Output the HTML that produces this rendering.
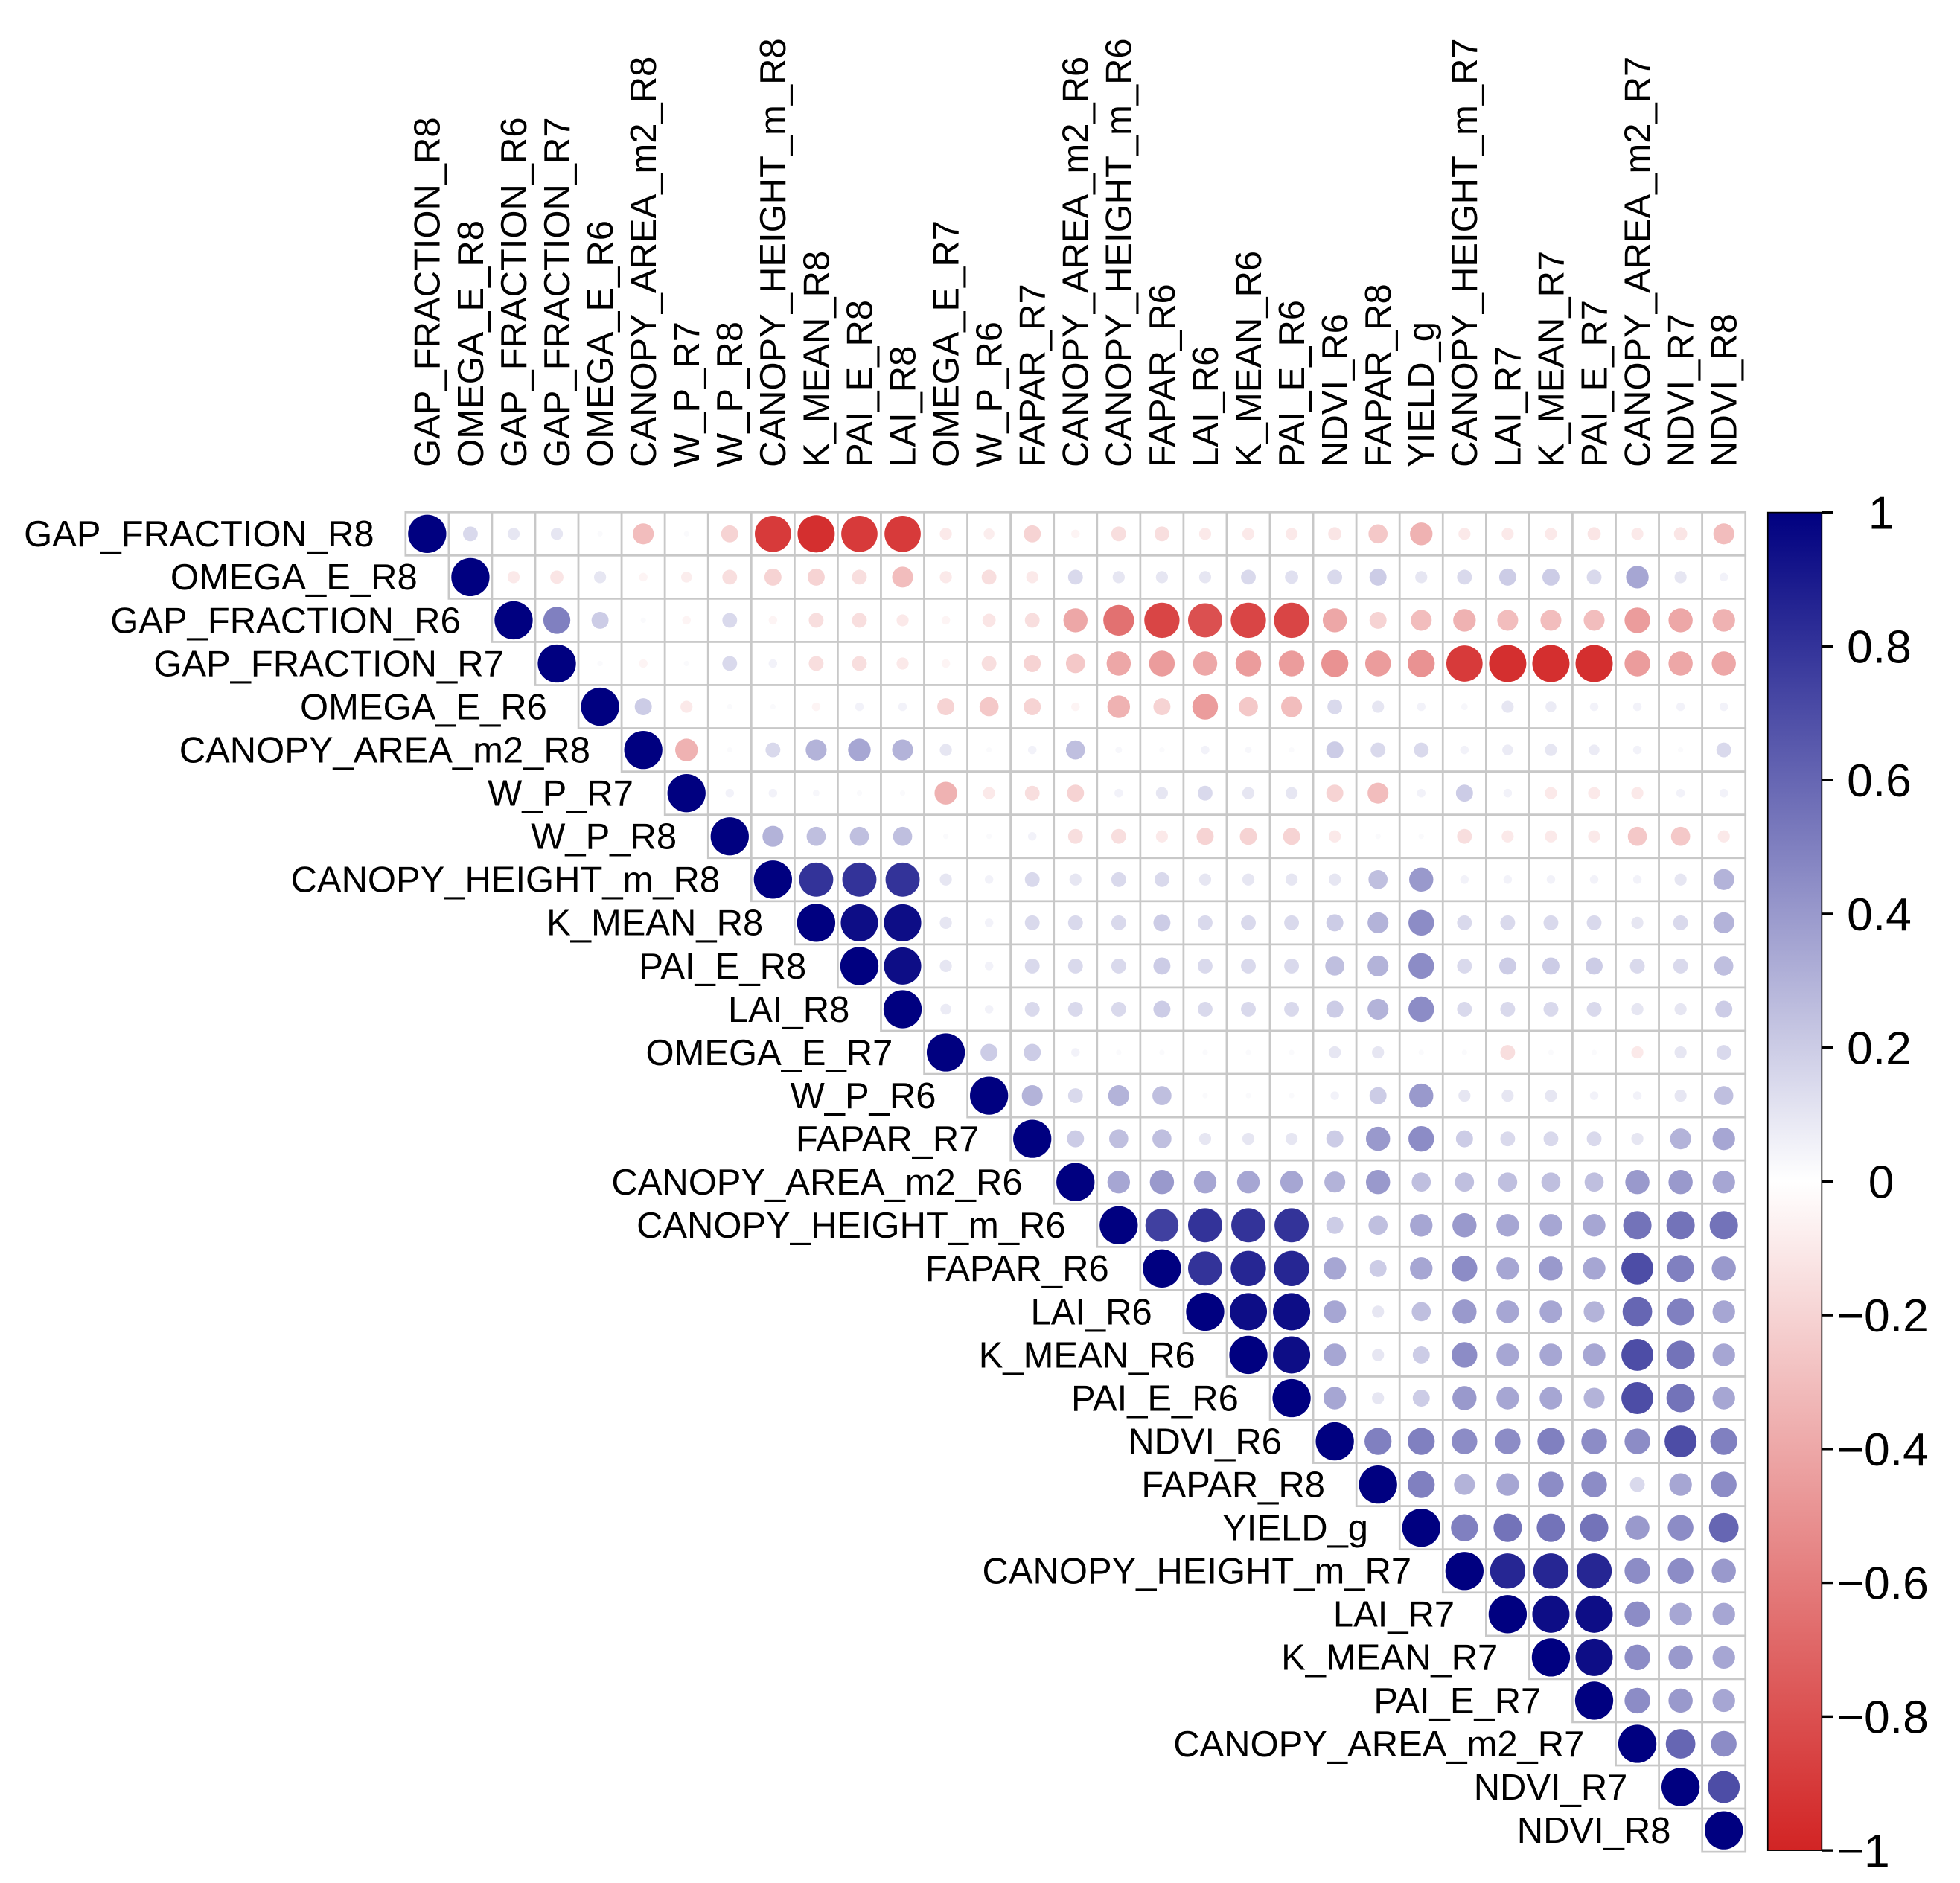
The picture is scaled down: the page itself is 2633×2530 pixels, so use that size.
<!DOCTYPE html>
<html><head><meta charset="utf-8"><style>
html,body{margin:0;padding:0;background:#fff;}
svg{display:block;}
text{font-family:"Liberation Sans",Arial,sans-serif;fill:#000;}
</style></head><body>
<svg id="chart" width="2633" height="2530" viewBox="0 0 1560 1499" preserveAspectRatio="none" xmlns="http://www.w3.org/2000/svg">
<defs>
<linearGradient id="cbgrad" x1="0" y1="0" x2="0" y2="1">
<stop offset="0" stop-color="#000080"/>
<stop offset="0.5" stop-color="#ffffff"/>
<stop offset="1" stop-color="#d22424"/>
</linearGradient>
</defs>
<g id="grid"></g>
<g id="rowlabels"></g>
<g id="collabels"></g>
<g id="colorbar">
<rect x="1407" y="408" width="43" height="1065" fill="url(#cbgrad)" stroke="#000" stroke-width="1"/>
</g>
</svg>
<script>
const variables = ["GAP_FRACTION_R8","OMEGA_E_R8","GAP_FRACTION_R6","GAP_FRACTION_R7","OMEGA_E_R6","CANOPY_AREA_m2_R8","W_P_R7","W_P_R8","CANOPY_HEIGHT_m_R8","K_MEAN_R8","PAI_E_R8","LAI_R8","OMEGA_E_R7","W_P_R6","FAPAR_R7","CANOPY_AREA_m2_R6","CANOPY_HEIGHT_m_R6","FAPAR_R6","LAI_R6","K_MEAN_R6","PAI_E_R6","NDVI_R6","FAPAR_R8","YIELD_g","CANOPY_HEIGHT_m_R7","LAI_R7","K_MEAN_R7","PAI_E_R7","CANOPY_AREA_m2_R7","NDVI_R7","NDVI_R8"];
// upper triangle values, row i holds columns i+1..30
const row0 = [0.15,0.1,0.1,0.02,-0.3,0.02,-0.2,-0.9,-0.95,-0.9,-0.9,-0.1,-0.08,-0.2,-0.05,-0.15,-0.15,-0.1,-0.1,-0.1,-0.12,-0.25,-0.35,-0.1,-0.1,-0.1,-0.12,-0.1,-0.12,-0.3];
const row1 = [-0.1,-0.12,0.1,-0.05,-0.08,-0.15,-0.2,-0.2,-0.15,-0.3,-0.1,-0.15,-0.1,0.15,0.1,0.1,0.1,0.15,0.12,0.15,0.2,0.1,0.15,0.2,0.2,0.15,0.35,0.1,0.05];
const row2 = [0.5,0.2,0.02,-0.05,0.15,-0.05,-0.15,-0.15,-0.1,-0.05,-0.12,-0.15,-0.4,-0.65,-0.85,-0.8,-0.85,-0.85,-0.4,-0.2,-0.3,-0.35,-0.3,-0.3,-0.3,-0.45,-0.4,-0.35];
const row3 = [0.02,-0.05,0.02,0.15,0.05,-0.15,-0.15,-0.1,-0.05,-0.15,-0.2,-0.25,-0.4,-0.45,-0.4,-0.45,-0.45,-0.5,-0.45,-0.5,-0.9,-0.95,-0.95,-0.95,-0.45,-0.4,-0.4];
const row4 = [0.2,-0.1,0.02,0.02,-0.05,0.05,0.05,-0.2,-0.25,-0.2,-0.05,-0.35,-0.2,-0.45,-0.25,-0.3,0.15,0.1,0.05,0.03,0.1,0.08,0.05,0.05,0.05,0.05];
const row5 = [-0.35,0.02,0.15,0.3,0.35,0.3,0.1,0.02,0.05,0.25,0.03,0.02,0.05,0.03,0.02,0.2,0.15,0.15,0.05,0.08,0.1,0.08,0.05,0.02,0.15];
const row6 = [0.05,0.05,0.03,0.02,0.02,-0.35,-0.1,-0.15,-0.2,0.05,0.1,0.15,0.1,0.1,-0.2,-0.3,0.05,0.2,0.05,-0.1,-0.1,-0.1,0.05,0.05,-0.05];
const row7 = [0.3,0.25,0.25,0.25,0.02,0.02,0.05,-0.15,-0.15,-0.1,-0.2,-0.2,-0.2,-0.1,0.02,0.02,-0.15,-0.1,-0.1,-0.1,-0.25,-0.25,-0.1];
const row8 = [0.8,0.8,0.8,0.1,0.05,0.15,0.1,0.15,0.15,0.1,0.1,0.1,0.1,0.25,0.4,0.05,0.05,0.05,0.05,0.05,0.1,0.3];
const row9 = [0.95,0.95,0.1,0.05,0.15,0.15,0.15,0.2,0.15,0.15,0.15,0.2,0.3,0.45,0.15,0.15,0.15,0.15,0.1,0.15,0.3];
const row10 = [0.95,0.1,0.05,0.15,0.15,0.15,0.2,0.15,0.15,0.15,0.25,0.3,0.45,0.15,0.2,0.2,0.2,0.15,0.15,0.25];
const row11 = [0.08,0.05,0.15,0.15,0.15,0.2,0.15,0.15,0.15,0.2,0.3,0.45,0.15,0.15,0.15,0.15,0.1,0.1,0.2];
const row12 = [0.2,0.2,0.05,0.02,0.02,0.02,0.02,0.02,0.1,0.1,0.02,0.02,-0.15,0.02,0.02,-0.1,0.1,0.15];
const row13 = [0.3,0.15,0.3,0.25,0.02,0.02,0.02,0.05,0.2,0.4,0.1,0.1,0.1,0.05,0.05,0.1,0.25];
const row14 = [0.2,0.25,0.25,0.1,0.1,0.1,0.2,0.4,0.45,0.2,0.15,0.15,0.15,0.1,0.3,0.35];
const row15 = [0.35,0.4,0.35,0.35,0.35,0.3,0.4,0.25,0.25,0.25,0.25,0.25,0.4,0.4,0.35];
const row16 = [0.75,0.8,0.8,0.8,0.2,0.25,0.35,0.4,0.35,0.35,0.35,0.55,0.55,0.55];
const row17 = [0.8,0.85,0.85,0.35,0.2,0.35,0.45,0.35,0.4,0.35,0.7,0.5,0.4];
const row18 = [0.95,0.95,0.35,0.1,0.25,0.4,0.35,0.35,0.3,0.6,0.5,0.35];
const row19 = [0.95,0.35,0.1,0.2,0.45,0.35,0.35,0.35,0.7,0.55,0.35];
const row20 = [0.35,0.1,0.2,0.4,0.35,0.35,0.3,0.7,0.55,0.35];
const row21 = [0.5,0.5,0.45,0.45,0.5,0.45,0.45,0.7,0.5];
const row22 = [0.5,0.3,0.35,0.45,0.45,0.15,0.35,0.45];
const row23 = [0.5,0.55,0.55,0.55,0.4,0.45,0.6];
const row24 = [0.85,0.85,0.85,0.45,0.45,0.4];
const row25 = [0.95,0.95,0.45,0.35,0.35];
const row26 = [0.95,0.45,0.4,0.35];
const row27 = [0.45,0.4,0.35];
const row28 = [0.6,0.45];
const row29 = [0.7];
const upperRows = [row0,row1,row2,row3,row4,row5,row6,row7,row8,row9,row10,row11,row12,row13,row14,row15,row16,row17,row18,row19,row20,row21,row22,row23,row24,row25,row26,row27,row28,row29,[]];
const colorbarTicks = [1,0.8,0.6,0.4,0.2,0,-0.2,-0.4,-0.6,-0.8,-1];

const NS = "http://www.w3.org/2000/svg";
const x0 = 322.8, y0 = 407.8, cell = 34.4, n = variables.length;
const xCenter = j => x0 + cell*(j+0.5);
const yCenter = i => y0 + cell*(i+0.5);
function color(v){
  const t = Math.min(1, Math.abs(v));
  let c;
  if (v >= 0) c = [255 + (0-255)*t, 255 + (0-255)*t, 255 + (128-255)*t];
  else c = [255 + (210-255)*t, 255 + (36-255)*t, 255 + (36-255)*t];
  return "rgb(" + c.map(Math.round).join(",") + ")";
}
const grid = document.getElementById("grid");
const rl = document.getElementById("rowlabels");
const cl = document.getElementById("collabels");
function valueAt(i,j){ return i===j ? 1 : upperRows[i][j-i-1]; }
for (let i=0;i<n;i++){
  for (let j=i;j<n;j++){
    const r = document.createElementNS(NS,"rect");
    r.setAttribute("x", x0+cell*j); r.setAttribute("y", y0+cell*i);
    r.setAttribute("width", cell); r.setAttribute("height", cell);
    r.setAttribute("fill","#fff"); r.setAttribute("stroke","#c8c8c8"); r.setAttribute("stroke-width","1.6");
    
    
    grid.appendChild(r);
  }
}
for (let i=0;i<n;i++){
  for (let j=i;j<n;j++){
    const v = valueAt(i,j);
    if (v === undefined) continue;
    const c = document.createElementNS(NS,"circle");
    c.setAttribute("cx", xCenter(j)); c.setAttribute("cy", yCenter(i));
    c.setAttribute("r", 15.2*Math.sqrt(Math.abs(v)));
    c.setAttribute("fill", color(v));
    
    
    grid.appendChild(c);
  }
  const t = document.createElementNS(NS,"text");
  t.setAttribute("x", x0+cell*i-25); t.setAttribute("y", yCenter(i)+10);
  t.setAttribute("text-anchor","end"); t.setAttribute("font-size","29");
  t.textContent = variables[i];
  
  
  rl.appendChild(t);
  const ct = document.createElementNS(NS,"text");
  const cx = xCenter(i)+10, cy = 372;
  ct.setAttribute("x", cx); ct.setAttribute("y", cy);
  ct.setAttribute("transform","rotate(-90 "+cx+" "+cy+")");
  ct.setAttribute("font-size","29");
  ct.textContent = variables[i];
  
  
  cl.appendChild(ct);
}
const cb = document.getElementById("colorbar");
const cbY = v => 408 + (1-v)/2*1065;
colorbarTicks.forEach(v=>{
  const l = document.createElementNS(NS,"line");
  l.setAttribute("x1",1450); l.setAttribute("x2",1459);
  l.setAttribute("y1",cbY(v)); l.setAttribute("y2",cbY(v));
  l.setAttribute("stroke","#000"); l.setAttribute("stroke-width","2");
  
  
  cb.appendChild(l);
  const t = document.createElementNS(NS,"text");
  t.setAttribute("x", v<0 ? 1462 : (v===1||v===0 ? 1487 : 1470));
  t.setAttribute("y", cbY(v)+13);
  t.setAttribute("font-size","37");
  t.textContent = (v<0 ? "\u2212" + String(-v) : String(v));
  
  
  cb.appendChild(t);
});
</script>
</body></html>
